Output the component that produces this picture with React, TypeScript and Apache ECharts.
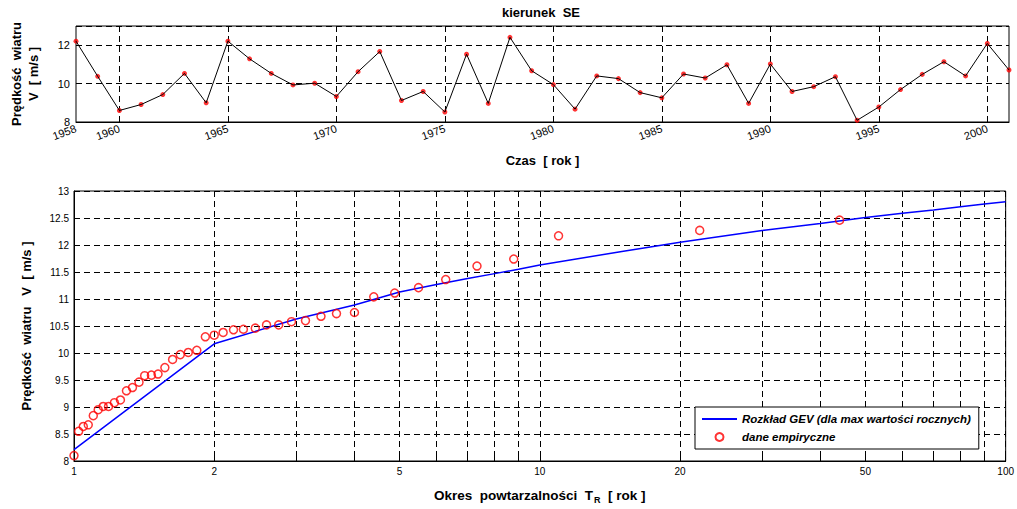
import React, { useEffect, useRef } from "react";
import * as echarts from "echarts";

// ---- Top chart: annual maxima by year ----
const years = [
  1958, 1959, 1960, 1961, 1962, 1963, 1964, 1965, 1966, 1967, 1968, 1969, 1970,
  1971, 1972, 1973, 1974, 1975, 1976, 1977, 1978, 1979, 1980, 1981, 1982, 1983,
  1984, 1985, 1986, 1987, 1988, 1989, 1990, 1991, 1992, 1993, 1994, 1995, 1996,
  1997, 1998, 1999, 2000, 2001,
];
const annualMax = [
  12.21, 10.38, 8.6, 8.91, 9.43, 10.53, 9.0, 12.21, 11.29, 10.53, 9.93, 10.02, 9.33,
  10.62, 11.67, 9.12, 9.59, 8.52, 11.53, 8.97, 12.41, 10.67, 9.95, 8.67, 10.4, 10.26,
  9.53, 9.26, 10.5, 10.29, 10.98, 8.97, 11.02, 9.59, 9.84, 10.36, 8.09, 8.78, 9.69,
  10.48, 11.14, 10.4, 12.09, 10.71,
];
const topYearLabels = [1958, 1960, 1965, 1970, 1975, 1980, 1985, 1990, 1995, 2000];
const topYearGrid = [1960, 1965, 1970, 1975, 1980, 1985, 1990, 1995, 2000];

// ---- Bottom chart: return period ----
const empiricalT = [
  1.0, 1.023, 1.047, 1.073, 1.1, 1.127, 1.155, 1.186, 1.221, 1.258, 1.296, 1.335,
  1.379, 1.418, 1.466, 1.515, 1.567, 1.628, 1.691, 1.759, 1.835, 1.914, 2.0, 2.09,
  2.2, 2.31, 2.45, 2.59, 2.75, 2.93, 3.14, 3.39, 3.66, 4.0, 4.4, 4.88, 5.49, 6.28,
  7.33, 8.79, 10.97, 22.04, 44.0,
];
const empiricalV = [
  8.1, 8.55, 8.64, 8.67, 8.84, 8.95, 9.01, 9.01, 9.08, 9.13, 9.3, 9.36, 9.46, 9.58,
  9.59, 9.61, 9.73, 9.88, 9.97, 10.01, 10.05, 10.3, 10.33, 10.38, 10.43, 10.44, 10.46,
  10.52, 10.52, 10.58, 10.6, 10.68, 10.73, 10.75, 11.04, 11.11, 11.21, 11.36, 11.61,
  11.74, 12.17, 12.27, 12.46,
];
const gevT = [1, 2, 3, 4, 5, 6, 7, 8, 9, 10, 15, 20, 30, 40, 50, 60, 70, 80, 90, 100];
const gevV = [
  8.21, 10.17, 10.63, 10.89, 11.13, 11.27, 11.38, 11.47, 11.55, 11.63, 11.88, 12.05,
  12.27, 12.4, 12.51, 12.59, 12.65, 12.71, 12.76, 12.8,
];
const bottomGridT = [1, 2, 3, 4, 5, 6, 7, 8, 9, 10, 20, 30, 40, 50, 60, 70, 80, 90, 100];
const bottomLabelT = [1, 2, 5, 10, 20, 50, 100];

const FONT = "Arial, 'Liberation Sans', Helvetica, sans-serif";
const DASH = [6, 4];

const GEV_NAME = "Rozkład GEV (dla max wartości rocznych)";
const EMP_NAME = "dane empiryczne";

function buildOption(): any {
  const splitStyle = { type: DASH, color: "#000", width: 1 };
  return {
    animation: false,
    backgroundColor: "#fff",
    textStyle: { fontFamily: FONT, color: "#000" },
    graphic: [
      {
        type: "text",
        x: 541,
        y: 12,
        style: {
          text: "kierunek  SE",
          textAlign: "center",
          textVerticalAlign: "middle",
          align: "center",
          verticalAlign: "middle",
          fontSize: 13,
          fontWeight: "bold",
          fontFamily: FONT,
          fill: "#000",
        },
      },
    ],
    grid: [
      { left: 74, right: 8, top: 26, height: 96, show: true, borderColor: "#000", borderWidth: 1 },
      { left: 74, right: 8, top: 191, height: 280, show: true, borderColor: "#000", borderWidth: 1 },
    ],
    legend: {
      left: 695,
      top: 407,
      orient: "vertical",
      padding: [6, 8, 6, 6],
      itemGap: 6,
      itemWidth: 35,
      itemHeight: 8,
      backgroundColor: "#fff",
      borderColor: "#000",
      borderWidth: 1,
      borderRadius: 0,
      textStyle: { fontSize: 11.5, fontStyle: "italic", fontWeight: "bold", color: "#000", fontFamily: FONT },
      data: [{ name: GEV_NAME, itemStyle: { opacity: 0 } }, { name: EMP_NAME }],
    },
    xAxis: [
      {
        type: "category",
        gridIndex: 0,
        data: years.map(String),
        boundaryGap: false,
        axisLine: { lineStyle: { color: "#000" } },
        axisTick: {
          inside: true,
          length: 4,
          interval: (_i: number, v: string) => topYearGrid.includes(+v),
          lineStyle: { color: "#000" },
        },
        axisLabel: {
          interval: (_i: number, v: string) => topYearLabels.includes(+v),
          rotate: 20,
          fontSize: 11,
          color: "#000",
          margin: 6,
        },
        splitLine: {
          show: true,
          interval: (_i: number, v: string) => topYearGrid.includes(+v),
          lineStyle: splitStyle,
        },
        name: "Czas  [ rok ]",
        nameLocation: "middle",
        nameGap: 32,
        nameTextStyle: { fontSize: 13, fontWeight: "bold", color: "#000" },
      },
      {
        type: "value",
        gridIndex: 1,
        min: 0,
        max: 2,
        axisLine: { lineStyle: { color: "#000" } },
        axisTick: {
          inside: true,
          length: 4,
          customValues: bottomGridT.map((t) => Math.log10(t)),
          lineStyle: { color: "#000" },
        },
        axisLabel: {
          customValues: bottomLabelT.map((t) => Math.log10(t)),
          formatter: (v: number) => String(Math.round(Math.pow(10, v))),
          fontSize: 10,
          color: "#000",
          margin: 5,
        },
        splitLine: { show: true, lineStyle: splitStyle },
        name: "{a|Okres  powtarzalności  T}{s|R}{a|  [ rok ]}",
        nameLocation: "middle",
        nameGap: 25,
        nameTextStyle: {
          rich: {
            a: { fontSize: 13.5, fontWeight: "bold", color: "#000", fontFamily: FONT },
            s: { fontSize: 9, fontWeight: "bold", color: "#000", fontFamily: FONT, padding: [9, 0, 0, 1] },
          },
        },
      },
    ],
    yAxis: [
      {
        type: "value",
        gridIndex: 0,
        min: 8,
        max: 13,
        interval: 2,
        axisLine: { lineStyle: { color: "#000" } },
        axisTick: { inside: true, length: 4, lineStyle: { color: "#000" } },
        axisLabel: { fontSize: 11, color: "#000", margin: 6, showMaxLabel: false },
        splitLine: { show: true, lineStyle: splitStyle },
        name: "Prędkość  wiatru\nV  [ m/s ]",
        nameLocation: "middle",
        nameGap: 34,
        nameTextStyle: { fontSize: 13, fontWeight: "bold", color: "#000", lineHeight: 17 },
      },
      {
        type: "value",
        gridIndex: 1,
        min: 8,
        max: 13,
        interval: 0.5,
        axisLine: { lineStyle: { color: "#000" } },
        axisTick: { inside: true, length: 4, lineStyle: { color: "#000" } },
        axisLabel: { fontSize: 10, color: "#000", margin: 5 },
        splitLine: { show: true, lineStyle: splitStyle },
        name: "Prędkość  wiatru   V  [ m/s ]",
        nameLocation: "middle",
        nameGap: 41,
        nameTextStyle: { fontSize: 13, fontWeight: "bold", color: "#000" },
      },
    ],
    series: [
      {
        type: "scatter",
        xAxisIndex: 0,
        yAxisIndex: 0,
        data: annualMax,
        symbol: "circle",
        symbolSize: 5,
        itemStyle: { color: "#ff0000" },
        z: 2,
      },
      {
        type: "line",
        xAxisIndex: 0,
        yAxisIndex: 0,
        data: annualMax,
        symbol: "none",
        lineStyle: { color: "#000", width: 1 },
        z: 3,
      },
      {
        name: GEV_NAME,
        type: "line",
        xAxisIndex: 1,
        yAxisIndex: 1,
        data: gevT.map((t, i) => [Math.log10(t), gevV[i]]),
        symbol: "none",
        lineStyle: { color: "#0000ff", width: 1.5 },
        itemStyle: { color: "#0000ff" },
        z: 3,
      },
      {
        name: EMP_NAME,
        type: "scatter",
        xAxisIndex: 1,
        yAxisIndex: 1,
        data: empiricalT.map((t, i) => [Math.log10(t), empiricalV[i]]),
        symbol: "circle",
        symbolSize: 8,
        itemStyle: { color: "rgba(255,255,255,0)", borderColor: "#ff0000", borderWidth: 1.5 },
        z: 4,
      },
    ],
  };
}

export default function App() {
  const ref = useRef<HTMLDivElement>(null);
  useEffect(() => {
    document.body.style.margin = "0";
    const chart = echarts.init(ref.current!, null, { renderer: "svg" });
    chart.setOption(buildOption());
    return () => chart.dispose();
  }, []);
  return <div ref={ref} style={{ width: 1017, height: 509, background: "#fff" }} />;
}
